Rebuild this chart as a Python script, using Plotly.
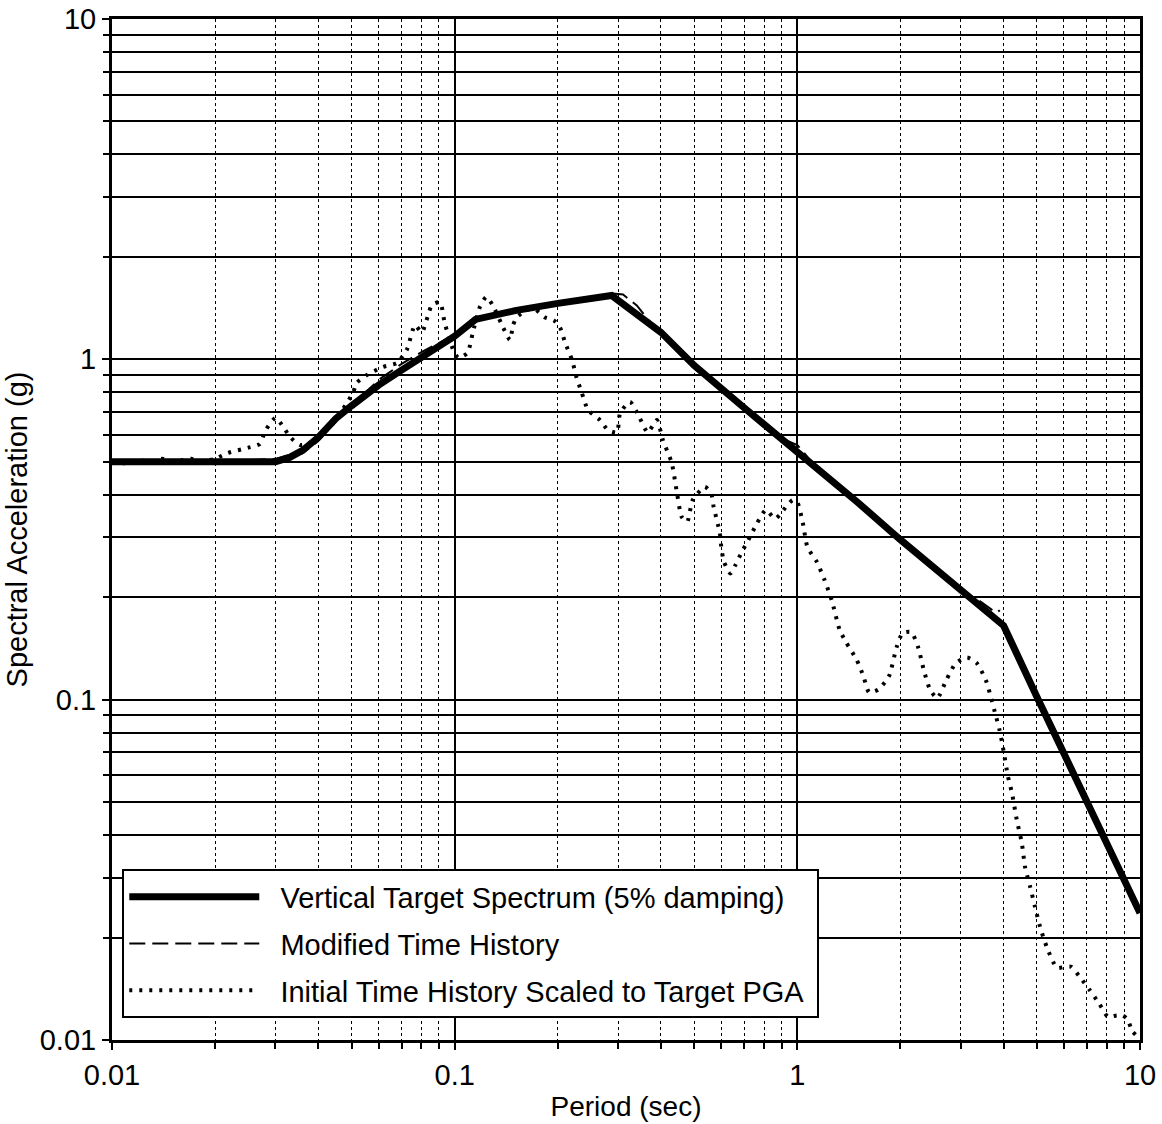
import plotly.graph_objects as go

# Vertical target spectrum (5% damping)
target_period = [0.01, 0.02, 0.03, 0.033, 0.036, 0.04, 0.045, 0.05, 0.06, 0.07, 0.08, 0.09,
                 0.1, 0.115, 0.15, 0.2, 0.287, 0.4, 0.5, 0.7, 1.0, 1.5, 2.0, 3.0, 4.0, 5.0, 7.0, 10.0]
target_sa = [0.5, 0.5, 0.5, 0.515, 0.54, 0.59, 0.67, 0.73, 0.84, 0.93, 1.01, 1.09,
             1.17, 1.31, 1.39, 1.46, 1.54, 1.2, 0.96, 0.72, 0.535, 0.38, 0.295, 0.21, 0.165, 0.102, 0.05, 0.0236]

# Modified (spectrum-matched) time history
modified_period = [0.01, 0.012, 0.015, 0.018, 0.02, 0.025, 0.03, 0.033, 0.036, 0.04, 0.045, 0.05,
                   0.055, 0.06, 0.065, 0.07, 0.08, 0.09, 0.1, 0.11, 0.12, 0.13, 0.14, 0.16, 0.18,
                   0.2, 0.23, 0.26, 0.29, 0.31, 0.34, 0.38, 0.43, 0.5, 0.6, 0.7, 0.8, 0.9, 1.0,
                   1.1, 1.3, 1.5, 1.8, 2.0, 2.3, 2.6, 3.0, 3.4, 3.8, 3.9]
modified_sa = [0.5, 0.505, 0.495, 0.505, 0.5, 0.505, 0.51, 0.525, 0.53, 0.575, 0.655, 0.74,
               0.80, 0.87, 0.92, 0.97, 1.05, 1.12, 1.18, 1.26, 1.33, 1.34, 1.38, 1.40, 1.44,
               1.45, 1.50, 1.52, 1.56, 1.55, 1.44, 1.25, 1.10, 0.97, 0.82, 0.71, 0.65, 0.585, 0.56,
               0.50, 0.43, 0.385, 0.325, 0.30, 0.26, 0.235, 0.21, 0.195, 0.18, 0.183]

# Initial time history scaled to target PGA
initial_period = [0.01, 0.011, 0.012, 0.013, 0.014, 0.015, 0.016, 0.017, 0.018, 0.019, 0.02,
                  0.0218, 0.025, 0.027, 0.028, 0.030, 0.0316, 0.0331, 0.0354, 0.0386, 0.0438,
                  0.0505, 0.0518, 0.0555, 0.0618, 0.0679, 0.0726, 0.0766, 0.0802, 0.0859, 0.0907,
                  0.0935, 0.0989, 0.1025, 0.109, 0.113, 0.1186, 0.1237, 0.129, 0.137, 0.145, 0.148,
                  0.152, 0.163, 0.172, 0.183, 0.195, 0.203, 0.21, 0.22, 0.227, 0.235, 0.245, 0.2655,
                  0.28, 0.2976, 0.304, 0.325, 0.346, 0.366, 0.389, 0.405, 0.43, 0.444, 0.46, 0.477,
                  0.495, 0.537, 0.56, 0.57, 0.594, 0.60, 0.61, 0.638, 0.66, 0.689, 0.72, 0.763,
                  0.81, 0.86, 0.89, 0.933, 0.97, 1.0, 1.038, 1.07, 1.14, 1.20, 1.26, 1.33, 1.39,
                  1.49, 1.56, 1.62, 1.72, 1.85, 1.95, 2.03, 2.15, 2.25, 2.34, 2.44, 2.56, 2.73,
                  2.9, 3.13, 3.34, 3.55, 3.65, 3.77, 3.89, 3.98, 4.12, 4.23, 4.37, 4.52, 4.62,
                  4.78, 4.94, 5.11, 5.34, 5.72, 6.03, 6.3, 6.68, 7.14, 7.6, 8.06, 8.55, 8.9, 9.2,
                  9.5, 10.0]
initial_sa = [0.5, 0.495, 0.505, 0.5, 0.51, 0.5, 0.505, 0.51, 0.5, 0.505, 0.51,
              0.531, 0.55, 0.564, 0.616, 0.673, 0.633, 0.591, 0.56, 0.572, 0.642,
              0.797, 0.853, 0.90, 0.95, 0.976, 1.07, 1.26, 1.20, 1.445, 1.47,
              1.28, 1.07, 1.01, 1.044, 1.20, 1.43, 1.525, 1.445, 1.27, 1.14, 1.26,
              1.33, 1.40, 1.40, 1.33, 1.30, 1.24, 1.12, 0.996, 0.882, 0.797, 0.71, 0.663,
              0.62, 0.61, 0.696, 0.75, 0.676, 0.61, 0.663, 0.58, 0.496, 0.413, 0.344, 0.333,
              0.386, 0.422, 0.405, 0.368, 0.309, 0.281, 0.255, 0.235, 0.249, 0.272, 0.295, 0.33,
              0.361, 0.34, 0.35, 0.372, 0.386, 0.38, 0.33, 0.281, 0.254, 0.225, 0.196, 0.16, 0.147,
              0.131, 0.117, 0.105, 0.107, 0.117, 0.143, 0.157, 0.158, 0.143, 0.122, 0.107, 0.101, 0.115,
              0.128, 0.133, 0.128, 0.114, 0.104, 0.092, 0.0815, 0.0726, 0.0593, 0.0532, 0.0443, 0.0379, 0.0322,
              0.0282, 0.0246, 0.0215, 0.0188, 0.0163, 0.0164, 0.0164, 0.0153, 0.014, 0.0128, 0.0117, 0.0118, 0.0118, 0.0115,
              0.0106, 0.0101]

major_vals = [0.01, 0.1, 1, 10]
major_text = ["0.01", "0.1", "1", "10"]
minor_vals = [k * 10.0 ** e for e in (-2, -1, 0) for k in range(2, 10)]

FONT = "Liberation Sans, Arial, Helvetica, sans-serif"
GAP = "\u00a0\u00a0"  # small gap between legend sample and its text

fig = go.Figure()

fig.add_trace(go.Scatter(
    x=initial_period, y=initial_sa, mode="lines",
    name=GAP + "Initial Time History Scaled to Target PGA\u00a0",
    line=dict(color="black", width=4, dash="3px,7px", shape="spline", smoothing=0.6),
    legendgroup="c", legendrank=3,
))
fig.add_trace(go.Scatter(
    x=target_period, y=target_sa, mode="lines",
    name=GAP + "Vertical Target Spectrum (5% damping)",
    line=dict(color="black", width=7),
    legendgroup="a", legendrank=1,
))
fig.add_trace(go.Scatter(
    x=modified_period, y=modified_sa, mode="lines",
    name=GAP + "Modified Time History",
    line=dict(color="black", width=2, dash="16px,7px"),
    legendgroup="b", legendrank=2,
))

axis_common = dict(
    type="log",
    range=[-2, 1],
    tickvals=major_vals,
    ticktext=major_text,
    ticks="outside",
    ticklen=7,
    tickwidth=2,
    tickcolor="black",
    showline=True,
    linecolor="black",
    linewidth=3,
    mirror=True,
    showgrid=True,
    gridcolor="black",
    gridwidth=2,
    zeroline=False,
    automargin=False,
    tickfont=dict(family=FONT, size=29, color="black"),
)

fig.update_xaxes(
    **axis_common,
    title=dict(text="Period (sec)", font=dict(family=FONT, size=28, color="black"), standoff=7),
    minor=dict(tickvals=minor_vals, ticks="outside", ticklen=6, tickwidth=1.5, tickcolor="black",
               showgrid=True, gridcolor="black", gridwidth=1, griddash="dot"),
)
fig.update_yaxes(
    **axis_common,
    title=dict(text="Spectral Acceleration (g)", font=dict(family=FONT, size=29, color="black"), standoff=4),
    minor=dict(tickvals=minor_vals, ticks="outside", ticklen=6, tickwidth=1.5, tickcolor="black",
               showgrid=True, gridcolor="black", gridwidth=1.5),
)

fig.update_layout(
    width=1162,
    height=1124,
    margin=dict(l=112, r=22, t=19, b=84),
    paper_bgcolor="white",
    plot_bgcolor="white",
    font=dict(family=FONT, color="black"),
    showlegend=True,
    legend=dict(
        x=0.01, y=0.167, xanchor="left", yanchor="top",
        bgcolor="white", bordercolor="black", borderwidth=2,
        font=dict(family=FONT, size=29, color="black"),
        traceorder="grouped", tracegroupgap=6,
        itemwidth=130,
    ),
)

fig.write_html("out.html")
